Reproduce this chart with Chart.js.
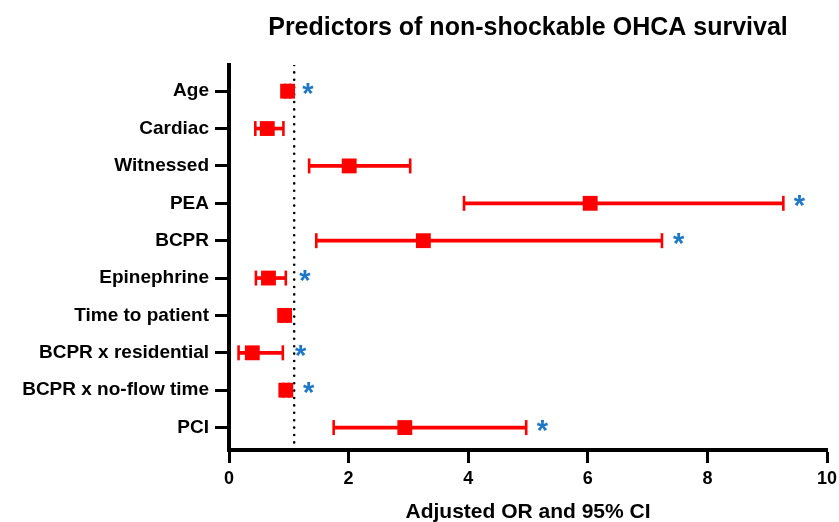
<!DOCTYPE html>
<html lang="en">
<head>
  <meta charset="UTF-8" />
  <title>Predictors of non-shockable OHCA survival</title>
  <script src="https://cdn.jsdelivr.net/npm/chart.js"></script>
  <style>
    html, body { margin: 0; padding: 0; background: #fff; }
    #wrap { width: 839px; height: 522px; }
  </style>
</head>
<body>
  <div id="wrap"><canvas id="forestChart" width="839" height="522"></canvas></div>

  <script>
    // values
    const categories = ['Age', 'Cardiac', 'Witnessed', 'PEA', 'BCPR', 'Epinephrine',
      'Time to patient', 'BCPR x residential', 'BCPR x no-flow time', 'PCI'];
    const oddsRatio = [0.98, 0.64, 2.01, 6.04, 3.25, 0.66, 0.93, 0.39, 0.95, 2.94];
    const ciLow  = [0.94, 0.44, 1.34, 3.93, 1.46, 0.45, 0.88, 0.16, 0.91, 1.75];
    const ciHigh = [1.02, 0.91, 3.03, 9.27, 7.24, 0.95, 0.98, 0.90, 1.00, 4.97];
    // where the blue significance stars sit (null = no star)
    const starX = [1.32, null, null, 9.54, 7.52, 1.27, null, 1.20, 1.33, 5.24];
    const xTicks = [0, 2, 4, 6, 8, 10];
    const refLine = 1.09;

    const RED = '#ff0000';
    const BLUE = '#1f77c8';

    Chart.defaults.font.family = "'Liberation Sans', Arial, sans-serif";
    Chart.defaults.color = '#000';

    const rows = categories.map((c, i) => i);

    // title centred over the plot area, like the original
    const titlePlugin = {
      id: 'plotTitle',
      afterDraw(chart) {
        const { ctx, chartArea } = chart;
        ctx.save();
        ctx.font = "bold 25px 'Liberation Sans', Arial, sans-serif";
        ctx.fillStyle = '#000';
        ctx.textAlign = 'center';
        ctx.textBaseline = 'alphabetic';
        ctx.fillText('Predictors of non-shockable OHCA survival', (chartArea.left + chartArea.right) / 2, 35);
        ctx.restore();
      }
    };

    const starPlugin = {
      id: 'stars',
      afterDatasetsDraw(chart) {
        const { ctx, scales } = chart;
        ctx.save();
        ctx.font = "bold 29px 'Liberation Sans', Arial, sans-serif";
        ctx.fillStyle = BLUE;
        ctx.textAlign = 'center';
        ctx.textBaseline = 'alphabetic';
        starX.forEach((v, i) => {
          if (v === null) return;
          ctx.fillText('*', scales.x.getPixelForValue(v), scales.y.getPixelForValue(i) + 12);
        });
        ctx.restore();
      }
    };

    const ctx = document.getElementById('forestChart').getContext('2d');
    new Chart(ctx, {
      type: 'scatter',
      data: {
        datasets: [
          {
            // OR squares
            type: 'scatter',
            data: rows.map(i => ({ x: oddsRatio[i], y: i })),
            pointStyle: 'rect',
            pointRadius: 10.5,
            pointHoverRadius: 10.5,
            backgroundColor: RED,
            borderWidth: 0
          },
          {
            // whisker caps
            type: 'scatter',
            data: rows.flatMap(i => [{ x: ciLow[i], y: i }, { x: ciHigh[i], y: i }]),
            pointStyle: 'line',
            rotation: 90,
            pointRadius: 7.5,
            pointHoverRadius: 7.5,
            borderColor: RED,
            borderWidth: 2.6
          },
          {
            // CI lines
            type: 'bar',
            indexAxis: 'y',
            data: rows.map(i => ({ y: i, x: [ciLow[i], ciHigh[i]] })),
            backgroundColor: RED,
            borderWidth: 0,
            barThickness: 3
          },
          {
            // dotted reference line
            type: 'line',
            showLine: true,
            data: [{ x: refLine, y: -0.7 }, { x: refLine, y: 9.6 }],
            borderColor: '#000',
            borderWidth: 2.6,
            borderDash: [0, 7.4],
            borderCapStyle: 'round',
            pointRadius: 0
          }
        ]
      },
      options: {
        responsive: false,
        animation: false,
        layout: { padding: { top: 65, right: 12, left: 0, bottom: 0 } },
        plugins: {
          legend: { display: false },
          tooltip: { enabled: false },
          title: { display: false }
        },
        scales: {
          x: {
            type: 'linear',
            min: 0,
            max: 10,
            afterFit(scale) {
              scale.height = 72;
              scale.paddingLeft = 0;
              scale.paddingRight = 12;
            },
            afterBuildTicks(scale) { scale.ticks = xTicks.map(v => ({ value: v })); },
            grid: { display: true, drawOnChartArea: false, drawTicks: true, tickLength: 13, tickWidth: 3, tickColor: '#000' },
            border: { display: true, color: '#000', width: 4 },
            ticks: { font: { size: 18, weight: 'bold' }, color: '#000', padding: 5, maxRotation: 0 },
            title: {
              display: true,
              text: 'Adjusted OR and 95% CI',
              font: { size: 21, weight: 'bold' },
              color: '#000',
              padding: { top: 0, bottom: -3 }
            }
          },
          y: {
            type: 'linear',
            reverse: true,
            min: -0.7,
            max: 9.6,
            offset: false,
            afterFit(scale) { scale.width = 229; },
            afterBuildTicks(scale) { scale.ticks = rows.map(i => ({ value: i })); },
            grid: { display: true, offset: false, drawOnChartArea: false, drawTicks: true, tickLength: 14, tickWidth: 3, tickColor: '#000' },
            border: { display: true, color: '#000', width: 4 },
            ticks: {
              font: { size: 19, weight: 'bold' },
              color: '#000',
              padding: 6,
              callback: v => categories[v]
            }
          }
        }
      },
      plugins: [titlePlugin, starPlugin]
    });
  </script>
</body>
</html>
